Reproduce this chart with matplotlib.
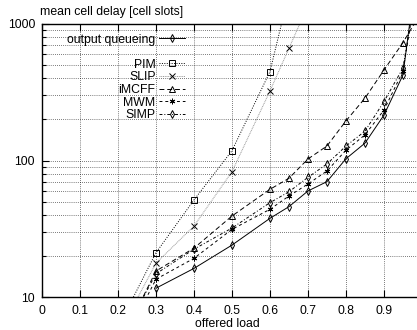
import matplotlib
matplotlib.use("Agg")
import matplotlib.pyplot as plt
from matplotlib.lines import Line2D
import numpy as np

plt.rcParams['font.family'] = ['Liberation Sans', 'DejaVu Sans']
plt.rcParams['font.size'] = 8.8

# offered load / mean cell delay
oq_load = [0.3, 0.4, 0.5, 0.6, 0.65, 0.7, 0.75, 0.8, 0.85, 0.9, 0.95, 0.99]
oq_delay = [11.6, 16.2, 24.0, 37.7, 45.9, 59.8, 70, 103, 134, 215, 423, 3000]

pim_load = [0.2, 0.3, 0.4, 0.5, 0.6, 0.65]
pim_delay = [6.0, 21.1, 51.4, 118, 448, 1690]

slip_load = [0.2, 0.3, 0.4, 0.5, 0.6, 0.65, 0.7]
slip_delay = [5.3, 17.7, 33.1, 82.8, 323, 664, 1370]

load = [0.2, 0.3, 0.4, 0.5, 0.6, 0.65, 0.7, 0.75, 0.8, 0.85, 0.9, 0.95, 0.99]
imcff_delay = [4.3, 15.5, 22.8, 39.2, 61.5, 74.1, 102.6, 127.7, 195, 286, 460, 730, 1120]
mwm_delay = [3.9, 13.5, 19.2, 31.3, 43.9, 54.9, 67.3, 83.8, 119, 154, 234, 452, 2200]
simp_delay = [4.5, 14.8, 22.4, 32.0, 49.1, 59.0, 75.3, 94.3, 127.7, 164, 270, 476, 2200]

xticks = [0, 0.1, 0.2, 0.3, 0.4, 0.5, 0.6, 0.7, 0.8, 0.9]

fig = plt.figure(figsize=(4.17, 3.30), dpi=100)
ax = fig.add_axes([42 / 417, 33 / 330, 375 / 417, 273 / 330])

lw = 0.7
ms = 4.0
mk = dict(markerfacecolor='none', markeredgecolor='black', markeredgewidth=0.7, markersize=ms)

l_oq, = ax.plot(oq_load, oq_delay, color='black', lw=lw, ls='-', marker='d', **mk)
l_pim, = ax.plot(pim_load, pim_delay, color='black', lw=lw, ls=(0, (1, 1.5)), marker='s', **mk)
l_slip, = ax.plot(slip_load, slip_delay, color='#9a9a9a', lw=lw, ls=(0, (1, 0.8)), marker='x', **mk)
l_imcff, = ax.plot(load, imcff_delay, color='black', lw=lw, ls=(0, (5, 3)), marker='^', **mk)
l_mwm, = ax.plot(load, mwm_delay, color='black', lw=lw, ls=(0, (3, 3)), marker=(6, 2, 0), **mk)
l_simp, = ax.plot(load, simp_delay, color='black', lw=lw, ls=(0, (3, 2, 1, 2)), marker='d', **mk)

ax.set_yscale('log')
ax.set_ylim(10, 1000)
ax.set_xlim(0, 0.987)
ax.set_xticks(xticks)
ax.set_xticklabels([f"{t:g}" for t in xticks])
ax.set_yticks([10, 100, 1000])
ax.set_yticklabels(['10', '100', '1000'])

ax.grid(True, which='major', axis='x', color='black', ls=(0, (1, 2)), lw=0.5)
ax.grid(True, which='both', axis='y', color='black', ls=(0, (1, 2)), lw=0.5)
ax.tick_params(which='major', direction='in', length=5, width=0.8, top=True, right=False)
ax.tick_params(axis='x', which='major', pad=5.5)
ax.tick_params(axis='y', which='major', pad=5)
ax.tick_params(which='minor', direction='in', length=3, width=0.8, top=False, right=False)
ax.tick_params(axis='x', which='minor', bottom=False)
ax.spines['right'].set_visible(False)
for s in ['left', 'bottom', 'top']:
    ax.spines[s].set_linewidth(1.0)

ax.set_xlabel('offered load')
ax.xaxis.set_label_coords(0.495, -0.078)
fig.text(40 / 417, 1 - 12 / 330, 'mean cell delay [cell slots]', ha='left', va='center')

blank = Line2D([], [], ls='none')
ax.legend([l_oq, blank, l_pim, l_slip, l_imcff, l_mwm, l_simp],
          ['output queueing', ' ', 'PIM', 'SLIP', 'iMCFF', 'MWM', 'SIMP'],
          loc='upper right', bbox_to_anchor=(0.381, 0.965), frameon=False,
          markerfirst=False, borderpad=0, borderaxespad=0, handlelength=2.1,
          handletextpad=0.3, labelspacing=0.05)

fig.savefig('out.png', dpi=100)
